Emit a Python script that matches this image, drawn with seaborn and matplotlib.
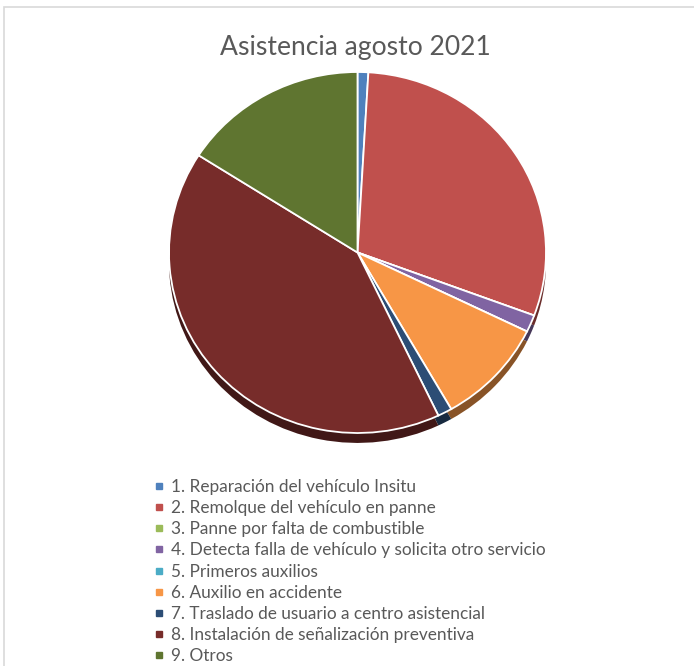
import numpy as np
import matplotlib
matplotlib.use("Agg")
import matplotlib.pyplot as plt
from matplotlib.lines import Line2D
from matplotlib.patches import Rectangle
import matplotlib.colors as mcolors
import seaborn as sns

# data (counts, approx)
categorias = [
    "1. Reparación del vehículo Insitu",
    "2. Remolque del vehículo en panne",
    "3. Panne por falta de combustible",
    "4. Detecta falla de vehículo y solicita otro servicio",
    "5. Primeros auxilios",
    "6. Auxilio en accidente",
    "7. Traslado de usuario a centro asistencial",
    "8. Instalación de señalización preventiva",
    "9. Otros",
]
valores = [3, 97, 0, 5, 0, 31, 4, 134, 52]
colores = ["#4F81BD", "#C0504D", "#9BBB59", "#8064A2", "#4BACC6",
           "#F79646", "#2C4D75", "#772C2A", "#5F7530"]
titulo = "Asistencia agosto 2021"

sns.set_theme(style="white")
plt.rcParams["font.family"] = ["Lato", "DejaVu Sans"]
pal = sns.color_palette(colores)

W, H = 694, 666
fig = plt.figure(figsize=(W / 100, H / 100), dpi=100)
fig.patch.set_facecolor("white")

# outer chart border (runs off right and bottom edges)
fig.patches.append(Rectangle((4 / W, -0.1), 1.2, 1 - 7 / H + 0.1,
                             transform=fig.transFigure, fill=False,
                             edgecolor="#D9D9D9", linewidth=1.2))

# pie axes: ellipse center (357.5, 252.5), rx 188.5, ry 180.5 px
cx, cy, rx, ry = 357.5, 252.5, 188.5, 180.5
ylo, yhi = -1.12, 1.02
ax = fig.add_axes([(cx - rx) / W, 1 - (cy - ylo * ry) / H,
                   2 * rx / W, (yhi - ylo) * ry / H])

dark = [tuple(np.array(mcolors.to_rgb(c)) * 0.55) for c in colores]
ax.pie(valores, colors=dark, startangle=90, counterclock=False,
       center=(0, -0.055), radius=1.0,
       wedgeprops=dict(linewidth=0))
ax.pie(valores, colors=pal, startangle=90, counterclock=False,
       radius=1.0, wedgeprops=dict(edgecolor="white", linewidth=1.3))
ax.set_aspect("auto")
ax.set_xlim(-1, 1)
ax.set_ylim(ylo, yhi)
ax.axis("off")

fig.text(355 / W, 1 - 47 / H, titulo, ha="center", va="center",
         fontsize=19.1, color="#595959")

handles = [Line2D([], [], linestyle="none", marker="s", markersize=4.5,
                  markerfacecolor=c, markeredgecolor=c) for c in colores]
leg = fig.legend(handles, categorias, loc="upper left",
                 bbox_to_anchor=(155 / W, 1 - 479 / H), frameon=False,
                 fontsize=12.4, labelcolor="#595959", handlelength=0.5,
                 handletextpad=0.45, labelspacing=0.30, borderpad=0,
                 borderaxespad=0)

fig.savefig("out.png", dpi=100)
